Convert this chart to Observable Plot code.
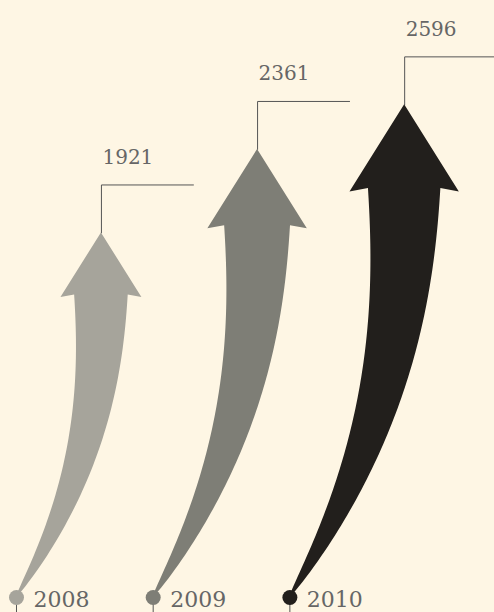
<!DOCTYPE html>
<html>
<head>
<meta charset="utf-8">
<script src="https://cdn.jsdelivr.net/npm/d3@7"></script>
<script src="https://cdn.jsdelivr.net/npm/@observablehq/plot@0.6"></script>
<style>
  html, body { margin: 0; padding: 0; background: #fef6e4; }
  #chart { width: 494px; height: 612px; overflow: hidden; }
</style>
</head>
<body>
<div id="chart"></div>
<script>
// ---- data ----
const years = [2008, 2009, 2010];
const values = [1921, 2361, 2596];
const valueLabels = ["1921", "2361", "2596"];
const yearLabels = ["2008", "2009", "2010"];
const colors = ["#a6a49b", "#7e7e76", "#221f1c"];

// ---- scale setup ----
const W = 494, H = 612, MB = 15;
const yMax = 3146;
const xDomain = [2007.883, 2011.497];
const pxPerUnit = (H - MB) / yMax;
const pxPerYear = W / (xDomain[1] - xDomain[0]);
// horizontal offset (in years) for a shape fraction s of an arrow of value v (keeps aspect 1:1)
const hx = (s, v) => s * v * pxPerUnit / pxPerYear;
const pxToUnits = px => px / pxPerUnit;
const pxToYears = px => px / pxPerYear;

// ---- arrow glyph, built from each value ----
const SHAFT = 0.83, WING = 0.823, CENTER = 0.233, HALFHEAD = 0.111, TOPW = 0.147;
const rows = [];
years.forEach((yr, i) => {
  const v = values[i];
  const N = 80;
  for (let k = 0; k <= N; k++) {
    const t = k / N;
    const c = CENTER * (1 - Math.pow(1 - t, 2.3));
    const w = TOPW * Math.pow(t, 0.7);
    rows.push({year: yr, y: SHAFT * t * v, x1: yr + hx(c - w / 2, v), x2: yr + hx(c + w / 2, v)});
  }
  rows.push({year: yr, y: WING * v, x1: yr + hx(CENTER - HALFHEAD, v), x2: yr + hx(CENTER + HALFHEAD, v)});
  rows.push({year: yr, y: v, x1: yr + hx(CENTER, v), x2: yr + hx(CENTER, v)});
});

// leader lines + labels
const leaders = [];
const labels = [];
years.forEach((yr, i) => {
  const v = values[i];
  const tx = yr + hx(CENTER, v);
  const ly = v + pxToUnits(48);
  leaders.push({year: yr, x: tx, y: v});
  leaders.push({year: yr, x: tx, y: ly});
  leaders.push({year: yr, x: tx + pxToYears(92), y: ly});
  labels.push({x: tx, y: ly, text: valueLabels[i]});
});

const chart = Plot.plot({
  width: W,
  height: H,
  marginTop: 0,
  marginRight: 0,
  marginBottom: MB,
  marginLeft: 0,
  style: {background: "#fef6e4", fontFamily: "DejaVu Serif, serif", overflow: "hidden"},
  x: {type: "linear", domain: xDomain, axis: null},
  y: {domain: [0, yMax], axis: null},
  color: {type: "ordinal", domain: years, range: colors},
  marks: [
    Plot.axisX({ticks: years, tickSize: 15, tickFormat: () => "", label: null, stroke: "#555"}),
    Plot.line(leaders, {x: "x", y: "y", z: "year", stroke: "#555", strokeWidth: 1}),
    Plot.areaX(rows, {y: "y", x1: "x1", x2: "x2", z: "year", fill: "year"}),
    Plot.dot(years, {x: d => d, y: 0, r: 7.5, fill: d => d}),
    Plot.text(years, {x: d => d, y: 0, text: (d, i) => yearLabels[i], textAnchor: "start", lineAnchor: "bottom", dx: 17, dy: 9, fontSize: 22, fill: "#666"}),
    Plot.text(labels, {x: "x", y: "y", text: "text", textAnchor: "start", lineAnchor: "bottom", dx: 1, dy: -21, fontSize: 20, fill: "#666"})
  ]
});
document.getElementById("chart").appendChild(chart);
</script>
</body>
</html>
